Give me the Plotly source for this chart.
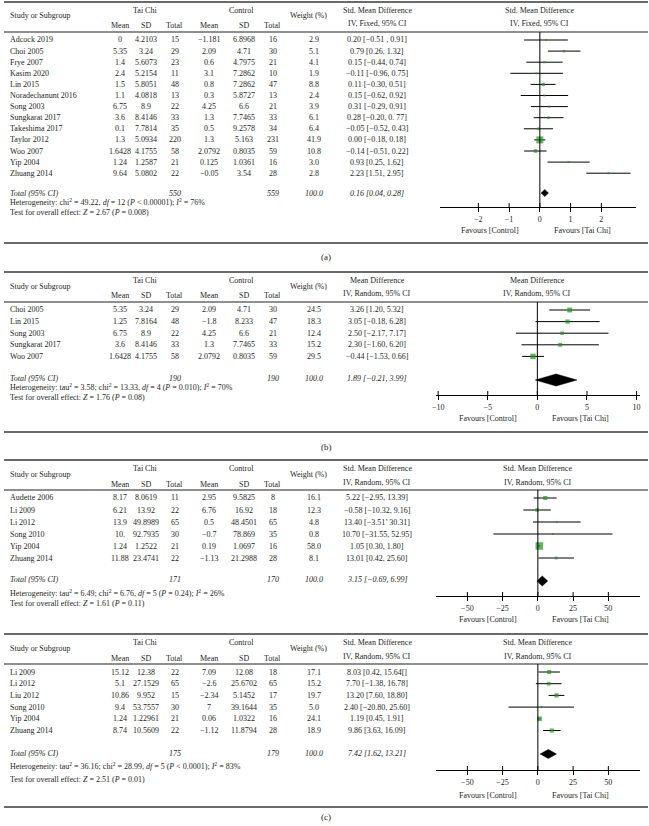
import math
import plotly.graph_objects as go

W, H = 649, 826

# ---------------- data ----------------
# Panel 1 : Std. Mean Difference, IV, Fixed
a_study = ["Adcock 2019", "Choi 2005", "Frye 2007", "Kasim 2020", "Lin 2015", "Noradechanunt 2016",
           "Song 2003", "Sungkarat 2017", "Takeshima 2017", "Taylor 2012", "Woo 2007", "Yip 2004", "Zhuang 2014"]
a_tc_mean = ["0", "5.35", "1.4", "2.4", "1.5", "1.1", "6.75", "3.6", "0.1", "1.3", "1.6428", "1.24", "9.64"]
a_tc_sd = ["4.2103", "3.24", "5.6073", "5.2154", "5.8051", "4.0818", "8.9", "8.4146", "7.7814", "5.0934", "4.1755", "1.2587", "5.0802"]
a_tc_n = ["15", "29", "23", "11", "48", "13", "22", "33", "35", "220", "58", "21", "22"]
a_ct_mean = ["−1.181", "2.09", "0.6", "3.1", "0.8", "0.3", "4.25", "1.3", "0.5", "1.3", "2.0792", "0.125", "−0.05"]
a_ct_sd = ["6.8968", "4.71", "4.7975", "7.2862", "7.2862", "5.8727", "6.6", "7.7465", "9.2578", "5.163", "0.8035", "1.0361", "3.54"]
a_ct_n = ["16", "30", "21", "10", "47", "13", "21", "33", "34", "231", "59", "16", "28"]
a_weight = ["2.9", "5.1", "4.1", "1.9", "8.8", "2.4", "3.9", "6.1", "6.4", "41.9", "10.8", "3.0", "2.8"]
a_ci_text = ["0.20 [−0.51 , 0.91]", "0.79 [0.26, 1.32]", "0.15 [−0.44, 0.74]", "−0.11 [−0.96, 0.75]",
             "0.11 [−0.30, 0.51]", "0.15 [−0.62, 0.92]", "0.31 [−0.29, 0.91]", "0.28 [−0.20, 0. 77]",
             "−0.05 [−0.52, 0.43]", "0.00 [−0.18, 0.18]", "−0.14 [−0.51, 0.22]", "0.93 [0.25, 1.62]", "2.23 [1.51, 2.95]"]
a_est = [0.20, 0.79, 0.15, -0.11, 0.11, 0.15, 0.31, 0.28, -0.05, 0.00, -0.14, 0.93, 2.23]
a_lo = [-0.51, 0.26, -0.44, -0.96, -0.30, -0.62, -0.29, -0.20, -0.52, -0.18, -0.51, 0.25, 1.51]
a_hi = [0.91, 1.32, 0.74, 0.75, 0.51, 0.92, 0.91, 0.77, 0.43, 0.18, 0.22, 1.62, 2.95]
a_total = ["550", "559", "100.0", "0.16 [0.04, 0.28]"]
a_pooled = [0.16, 0.04, 0.28]
a_het = "Heterogeneity: chi<sup>2</sup> = 49.22, <i>df</i> = 12 (<i>P</i> < 0.00001); <i>I</i><sup>2</sup> = 76%"
a_test = "Test for overall effect: <i>Z</i> = 2.67 (<i>P</i> = 0.008)"
a_ticks = [-2, -1, 0, 1, 2]
a_tick_text = ["−2", "−1", "0", "1", "2"]

# Panel 2 : Mean Difference, IV, Random
b_study = ["Choi 2005", "Lin 2015", "Song 2003", "Sungkarat 2017", "Woo 2007"]
b_tc_mean = ["5.35", "1.25", "6.75", "3.6", "1.6428"]
b_tc_sd = ["3.24", "7.8164", "8.9", "8.4146", "4.1755"]
b_tc_n = ["29", "48", "22", "33", "58"]
b_ct_mean = ["2.09", "−1.8", "4.25", "1.3", "2.0792"]
b_ct_sd = ["4.71", "8.233", "6.6", "7.7465", "0.8035"]
b_ct_n = ["30", "47", "21", "33", "59"]
b_weight = ["24.5", "18.3", "12.4", "15.2", "29.5"]
b_ci_text = ["3.26 [1.20, 5.32]", "3.05 [−0.18, 6.28]", "2.50 [−2.17, 7.17]", "2.30 [−1.60, 6.20]", "−0.44 [−1.53, 0.66]"]
b_est = [3.26, 3.05, 2.50, 2.30, -0.44]
b_lo = [1.20, -0.18, -2.17, -1.60, -1.53]
b_hi = [5.32, 6.28, 7.17, 6.20, 0.66]
b_total = ["190", "190", "100.0", "1.89 [−0.21, 3.99]"]
b_pooled = [1.89, -0.21, 3.99]
b_het = "Heterogeneity: tau<sup>2</sup> = 3.58; chi<sup>2</sup> = 13.33, <i>df</i> = 4 (<i>P</i> = 0.010); <i>I</i><sup>2</sup> = 70%"
b_test = "Test for overall effect: <i>Z</i> = 1.76 (<i>P</i> = 0.08)"
b_ticks = [-10, -5, 0, 5, 10]
b_tick_text = ["−10", "−5", "0", "5", "10"]

# Panel 3 : Std. Mean Difference, IV, Random
c_study = ["Audette 2006", "Li 2009", "Li 2012", "Song 2010", "Yip 2004", "Zhuang 2014"]
c_tc_mean = ["8.17", "6.21", "13.9", "10.", "1.24", "11.88"]
c_tc_sd = ["8.0619", "13.92", "49.8989", "92.7935", "1.2522", "23.4741"]
c_tc_n = ["11", "22", "65", "30", "21", "22"]
c_ct_mean = ["2.95", "6.76", "0.5", "−0.7", "0.19", "−1.13"]
c_ct_sd = ["9.5825", "16.92", "48.4501", "78.869", "1.0697", "21.2988"]
c_ct_n = ["8", "18", "65", "35", "16", "28"]
c_weight = ["16.1", "12.3", "4.8", "0.8", "58.0", "8.1"]
c_ci_text = ["5.22 [−2.95, 13.39]", "−0.58 [−10.32, 9.16]", "13.40 [−3.51’ 30.31]", "10.70 [−31.55, 52.95]",
             "1.05 [0.30, 1.80]", "13.01 [0.42, 25.60]"]
c_est = [5.22, -0.58, 13.40, 10.70, 1.05, 13.01]
c_lo = [-2.95, -10.32, -3.51, -31.55, 0.30, 0.42]
c_hi = [13.39, 9.16, 30.31, 52.95, 1.80, 25.60]
c_total = ["171", "170", "100.0", "3.15 [−0.69, 6.99]"]
c_pooled = [3.15, -0.69, 6.99]
c_het = "Heterogeneity: tau<sup>2</sup> = 6.49; chi<sup>2</sup> = 6.76, <i>df</i> = 5 (<i>P</i> = 0.24); <i>I</i><sup>2</sup> = 26%"
c_test = "Test for overall effect: <i>Z</i> = 1.61 (<i>P</i> = 0.11)"
c_ticks = [-50, -25, 0, 25, 50]
c_tick_text = ["−50", "−25", "0", "25", "50"]

# Panel 4 : Std. Mean Difference, IV, Random
d_study = ["Li 2009", "Li 2012", "Liu 2012", "Song 2010", "Yip 2004", "Zhuang 2014"]
d_tc_mean = ["15.12", "5.1", "10.86", "9.4", "1.24", "8.74"]
d_tc_sd = ["12.38", "27.1529", "9.952", "53.7557", "1.22961", "10.5609"]
d_tc_n = ["22", "65", "15", "30", "21", "22"]
d_ct_mean = ["7.09", "−2.6", "−2.34", "7", "0.06", "−1.12"]
d_ct_sd = ["12.08", "25.6702", "5.1452", "39.1644", "1.0322", "11.8794"]
d_ct_n = ["18", "65", "17", "35", "16", "28"]
d_weight = ["17.1", "15.2", "19.7", "5.0", "24.1", "18.9"]
d_ci_text = ["8.03 [0.42, 15.64[]", "7.70 [−1.38, 16.78]", "13.20 [7.60, 18.80]", "2.40 [−20.80, 25.60]",
             "1.19 [0.45, 1.91]", "9.86 [3.63, 16.09]"]
d_est = [8.03, 7.70, 13.20, 2.40, 1.19, 9.86]
d_lo = [0.42, -1.38, 7.60, -20.80, 0.45, 3.63]
d_hi = [15.64, 16.78, 18.80, 25.60, 1.91, 16.09]
d_total = ["175", "179", "100.0", "7.42 [1.62, 13.21]"]
d_pooled = [7.42, 1.62, 13.21]
d_het = "Heterogeneity: tau<sup>2</sup> = 36.16; chi<sup>2</sup> = 28.99, <i>df</i> = 5 (<i>P</i> < 0.0001); <i>I</i><sup>2</sup> = 83%"
d_test = "Test for overall effect: <i>Z</i> = 2.51 (<i>P</i> = 0.01)"
d_ticks = [-50, -25, 0, 25, 50]
d_tick_text = ["−50", "−25", "0", "25", "50"]

# ---------------- styling ----------------
FONT = "Liberation Serif"
TXT = "#231f20"
GREEN = "#1e961e"
LINEC = "#6a6a6a"
FS = 8
COLS = [117, 143, 172, 207, 242, 271, 312]
CI_X = 376
NAME_X = 4

fig = go.Figure()
annotations = []
shapes = []


def px(x):
    return x / W


def py(y):
    return 1 - y / H


def text(x, y, s, anchor="center", size=FS):
    annotations.append(dict(x=px(x), y=py(y), xref="paper", yref="paper", text=s, showarrow=False,
                            xanchor=anchor, yanchor="middle", font=dict(family=FONT, size=size, color=TXT)))


def hline(y, width=1.5, color=LINEC):
    shapes.append(dict(type="line", xref="paper", yref="paper", x0=0, x1=1, y0=py(y), y1=py(y),
                       line=dict(color=color, width=width)))


def panel(k, data, geo):
    (study, tcm, tcs, tcn, ctm, cts, ctn, wt, citxt, est, lo, hi, total, pooled,
     het, test, ticks, tick_text, title1, title2) = data
    top = geo["top"]
    under = top + 30
    # header
    hline(top, 2)
    hline(under, 1.3)
    text(142, top + 8, "Tai Chi")
    text(239, top + 8, "Control")
    text(NAME_X, top + 14, "Study or Subgroup", "left")
    text(307, top + 14, "Weight (%)")
    for cx, lab in zip(COLS[:6], ["Mean", "SD", "Total", "Mean", "SD", "Total"]):
        text(cx, top + 24, lab)
    text(CI_X, top + 8, title1)
    text(CI_X, top + 22, title2)
    zx = geo["zero_px"]
    text(zx, top + 8, title1)
    text(zx, top + 22, title2)

    rows = [geo["row0"] + i * geo["step"] for i in range(len(study))]
    for i, ry in enumerate(rows):
        text(NAME_X, ry, study[i], "left")
        for cx, col in zip(COLS, [tcm, tcs, tcn, ctm, cts, ctn, wt]):
            text(cx, ry, col[i])
        text(CI_X, ry, citxt[i])
    ty = geo["total"]
    text(NAME_X, ty, "<i>Total (95% CI)</i>", "left")
    text(COLS[2], ty, "<i>%s</i>" % total[0])
    text(COLS[5], ty, "<i>%s</i>" % total[1])
    text(COLS[6], ty, "<i>%s</i>" % total[2])
    text(CI_X, ty, "<i>%s</i>" % total[3])
    text(NAME_X, geo["het"], het, "left")
    text(NAME_X, geo["test"], test, "left")

    axis_y = geo["axis"]
    text(zx - 50, geo["fav"], "Favours [Control]")
    text(zx + 43, geo["fav"], "Favours [Tai Chi]")

    xa = "x" if k == 1 else "x%d" % k
    ya = "y" if k == 1 else "y%d" % k
    xname = "xaxis" if k == 1 else "xaxis%d" % k
    yname = "yaxis" if k == 1 else "yaxis%d" % k
    fig.update_layout(**{
        xname: dict(domain=[px(geo["x0"]), px(geo["x1"])], range=list(geo["xrange"]), anchor=ya,
                    showline=True, linecolor="black", linewidth=1, ticks="outside", ticklen=4,
                    tickcolor="black", tickwidth=1, tickvals=ticks, ticktext=tick_text,
                    showgrid=False, zeroline=False, fixedrange=True,
                    tickfont=dict(family=FONT, size=FS, color=TXT)),
        yname: dict(domain=[py(axis_y), py(under)], range=[axis_y, under], anchor=xa,
                    visible=False, showgrid=False, zeroline=False, fixedrange=True),
    })
    # inner halves of ticks
    for t in ticks:
        shapes.append(dict(type="line", xref=xa, yref=ya, x0=t, x1=t, y0=axis_y, y1=axis_y - 4,
                           line=dict(color="black", width=1)))
    # zero line
    shapes.append(dict(type="line", xref=xa, yref=ya, x0=0, x1=0, y0=under, y1=axis_y,
                       line=dict(color="black", width=1)))
    # CI whiskers
    xs, ys = [], []
    for l, h, ry in zip(lo, hi, rows):
        xs += [l, h, None]
        ys += [ry, ry, None]
    fig.add_trace(go.Scatter(x=xs, y=ys, mode="lines", line=dict(color="black", width=1),
                             xaxis=xa, yaxis=ya, hoverinfo="skip"))
    sizes = [max(2.0, geo["sq"] * math.sqrt(float(w))) for w in wt]
    fig.add_trace(go.Scatter(x=est, y=rows, mode="markers", xaxis=xa, yaxis=ya,
                             marker=dict(symbol="square", size=sizes, color=GREEN, line=dict(width=0)),
                             cliponaxis=False))
    # pooled diamond
    pe, pl, ph = pooled
    dh = geo["dh"]
    dy = geo["diam"]
    fig.add_trace(go.Scatter(x=[pl, pe, ph, pe, pl], y=[dy, dy - dh, dy, dy + dh, dy], mode="lines",
                             fill="toself", fillcolor="black", line=dict(color="black", width=0.5),
                             xaxis=xa, yaxis=ya))
    if geo.get("bottom"):
        hline(geo["bottom"], 2)
        text(W / 2, geo["label_y"], geo["label"], size=9)


panel(1, (a_study, a_tc_mean, a_tc_sd, a_tc_n, a_ct_mean, a_ct_sd, a_ct_n, a_weight, a_ci_text,
          a_est, a_lo, a_hi, a_total, a_pooled, a_het, a_test, a_ticks, a_tick_text,
          "Std. Mean Difference", "IV, Fixed, 95% CI"),
      dict(top=2, row0=40, step=11.1, total=193, diam=193, het=202, test=212, axis=207, fav=231,
           bottom=243, label="(a)", label_y=257, x0=439, x1=637, xrange=(-3.26, 3.13), zero_px=540,
           sq=1.08, dh=3.5))

panel(2, (b_study, b_tc_mean, b_tc_sd, b_tc_n, b_ct_mean, b_ct_sd, b_ct_n, b_weight, b_ci_text,
          b_est, b_lo, b_hi, b_total, b_pooled, b_het, b_test, b_ticks, b_tick_text,
          "Mean Difference", "IV, Random, 95% CI"),
      dict(top=272, row0=310, step=11.6, total=378, diam=380, het=387, test=397, axis=395, fav=419,
           bottom=432, label="(b)", label_y=447, x0=435, x1=641, xrange=(-10.25, 10.35), zero_px=537.5,
           sq=1.0, dh=6))

panel(3, (c_study, c_tc_mean, c_tc_sd, c_tc_n, c_ct_mean, c_ct_sd, c_ct_n, c_weight, c_ci_text,
          c_est, c_lo, c_hi, c_total, c_pooled, c_het, c_test, c_ticks, c_tick_text,
          "Std. Mean Difference", "IV, Random, 95% CI"),
      dict(top=460, row0=498, step=12.0, total=579, diam=581, het=593, test=603, axis=596, fav=619,
           bottom=None, x0=435, x1=641, xrange=(-72.5, 72.5), zero_px=538, sq=1.0, dh=5))

panel(4, (d_study, d_tc_mean, d_tc_sd, d_tc_n, d_ct_mean, d_ct_sd, d_ct_n, d_weight, d_ci_text,
          d_est, d_lo, d_hi, d_total, d_pooled, d_het, d_test, d_ticks, d_tick_text,
          "Std. Mean Difference", "IV, Random, 95% CI"),
      dict(top=634, row0=672, step=11.7, total=753, diam=754, het=766, test=779, axis=770, fav=795,
           bottom=807, label="(c)", label_y=817, x0=435, x1=641, xrange=(-72.5, 72.5), zero_px=538,
           sq=0.95, dh=4.5))

fig.update_layout(width=W, height=H, autosize=False, margin=dict(l=0, r=0, t=0, b=0),
                  paper_bgcolor="white", plot_bgcolor="rgba(0,0,0,0)", showlegend=False,
                  annotations=annotations, shapes=shapes)
fig.write_html("out.html",
               config={"displayModeBar": False, "staticPlot": True},
               post_script="document.body.style.margin='0px';document.body.style.padding='0px';")
